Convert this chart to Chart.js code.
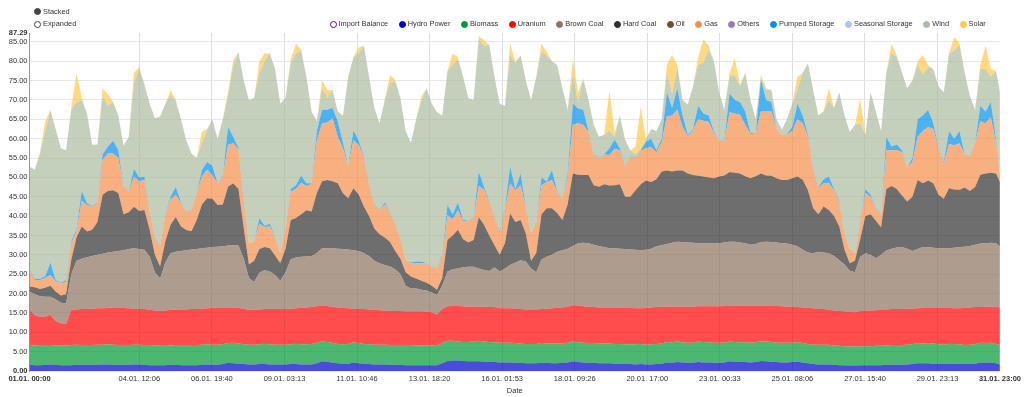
<!DOCTYPE html>
<html>
<head>
<meta charset="utf-8">
<script src="https://cdn.jsdelivr.net/npm/chart.js"></script>
<style>
  body { margin: 0; background: #fff; font-family: "Liberation Sans", Arial, sans-serif; color: #333; }
  #wrap { position: relative; width: 1024px; height: 397px; }
  #chart { position: absolute; left: 0; top: 0; }
  .row { position: absolute; display: flex; align-items: center; font-size: 7.4px; line-height: 12px; white-space: nowrap; }
  .item { display: flex; align-items: center; margin-right: 10.5px; }
  .dot { display: inline-block; width: 5px; height: 5px; border-radius: 50%; border: 1px solid; margin-right: 2px; box-sizing: content-box; }
</style>
</head>
<body>
<div id="wrap">
  <canvas id="chart" width="1024" height="397"></canvas>
  <div class="row" style="left:34px;top:5.5px"><span class="item"><i class="dot" style="background:#444;border-color:#444"></i>Stacked</span></div>
  <div class="row" style="left:34px;top:18px"><span class="item"><i class="dot" style="background:#fff;border-color:#444"></i>Expanded</span></div>
  <div class="row" id="legend" style="left:329.5px;top:18px"></div>
</div>
<script>
// hourly timeline 01.01. 00:00 .. 31.01. 23:00, read every 4 hours
const hours = Array.from({length: 186}, (_, i) => i * 4).concat(743);

// cumulative tops of each stacked layer (GW)
const hydroTop = [
  1.7,1.5,1.5,1.6,1.7,1.6, 1.5,1.5,1.5,1.6,1.6,1.6, 1.6,1.6,1.7,1.7,1.6,1.6, 1.6,1.6,1.7,1.7,1.6,1.5,
  1.5,1.5,1.5,1.6,1.6,1.5, 1.5,1.5,1.5,1.6,1.7,1.6, 1.6,1.8,2.1,2.0,1.9,1.8, 1.7,1.7,1.8,1.8,1.7,1.7,
  1.7,1.7,1.8,1.8,1.7,1.7, 1.7,2.0,2.5,2.4,2.1,2.0, 1.9,1.9,2.2,2.0,1.9,1.8, 1.7,1.7,1.7,1.6,1.6,1.6,
  1.5,1.5,1.5,1.5,1.5,1.5, 1.5,2.0,2.6,2.7,2.7,2.6, 2.5,2.5,2.5,2.4,2.4,2.3, 2.2,2.2,2.2,2.1,2.1,2.0,
  2.0,2.0,2.1,2.1,2.0,2.0, 2.1,2.2,2.5,2.3,2.2,2.1, 2.1,2.0,2.0,2.0,1.9,1.9, 1.8,1.8,1.7,1.8,1.7,1.7,
  1.8,1.9,2.2,2.1,2.3,2.2, 2.1,2.1,2.3,2.2,2.2,2.1, 2.1,2.2,2.5,2.4,2.3,2.3, 2.2,2.3,2.6,2.5,2.4,2.3,
  2.2,2.2,2.3,2.4,2.2,2.0, 1.8,1.7,1.7,1.7,1.6,1.5, 1.5,1.4,1.4,1.5,1.5,1.5, 1.5,1.5,1.6,1.6,1.6,1.6,
  1.7,1.8,2.0,2.0,2.0,1.9, 1.9,1.8,1.9,1.9,1.9,1.8, 1.8,1.9,2.2,2.1,2.2,2.0, 1.7
];
const biomassTop = [
  6.7,6.6,6.7,6.7,6.7,6.6, 6.6,6.6,6.7,6.8,6.7,6.7, 6.7,6.8,6.8,6.9,6.8,6.7, 6.7,6.7,6.8,6.8,6.7,6.7,
  6.6,6.5,6.5,6.6,6.7,6.7, 6.7,6.7,6.7,6.8,6.9,6.8, 6.8,6.9,7.2,7.3,7.1,6.9, 6.8,6.8,6.9,7.0,6.9,6.8,
  6.8,6.8,6.9,7.0,6.9,6.9, 7.0,7.3,7.6,7.5,7.3,7.0, 6.9,7.0,7.4,7.2,7.0,6.9, 6.8,6.8,6.8,6.7,6.7,6.7,
  6.7,6.7,6.6,6.6,6.6,6.6, 6.5,7.2,7.8,7.8,7.6,7.5, 7.5,7.6,7.8,7.6,7.5,7.4, 7.3,7.3,7.3,7.2,7.1,7.0,
  7.0,7.0,7.2,7.1,7.1,7.1, 7.1,7.3,7.6,7.4,7.3,7.2, 7.2,7.1,7.1,7.1,7.0,7.0, 6.9,6.9,6.9,7.0,6.8,6.9,
  7.0,7.1,7.5,7.4,7.6,7.4, 7.3,7.3,7.6,7.5,7.4,7.3, 7.3,7.3,7.6,7.5,7.4,7.4, 7.3,7.4,7.7,7.6,7.5,7.3,
  7.3,7.3,7.3,7.4,7.2,7.0, 6.8,6.8,6.8,6.8,6.6,6.5, 6.4,6.3,6.3,6.4,6.4,6.4, 6.5,6.5,6.6,6.7,6.7,6.7,
  6.8,6.9,7.2,7.1,7.2,7.1, 6.9,6.8,7.0,7.0,6.9,6.7, 6.8,6.9,7.3,7.2,7.3,7.0, 6.7
];
const uraniumTop = [
  15.8,14.4,14,14,14.5,13, 12.3,12.1,15.8,15.9,16,16, 16.1,16.2,16.2,16.3,16.4,16.4, 16.3,16.2,16.1,16,16,15.8,
  15.6,15.5,15.6,15.8,15.9,15.9, 15.9,16,16,16.1,16.2,16.3, 16.4,16.4,16.4,16.4,16.3,16.1, 15.8,15.8,15.9,16,16,16,
  16,16,16.1,16.2,16.3,16.4, 16.5,16.7,16.9,16.8,16.5,16.4, 16.3,16.2,16.1,16,16,15.9, 15.8,15.7,15.6,15.5,15.5,15.5,
  15.4,15.4,15.4,15.4,15.3,15.2, 14.6,16,16.7,16.8,16.8,16.7, 16.6,16.6,16.6,16.6,16.5,16.5, 16.2,16.2,16.2,16.1,16,15.9,
  15.9,15.9,16,16.1,16.2,16.3, 16.4,16.6,17,16.9,16.7,16.6, 16.5,16.4,16.4,16.4,16.4,16.4, 16.3,16.3,16.2,16.2,16.3,16.4,
  16.5,16.6,16.6,16.6,16.6,16.6, 16.6,16.6,16.7,16.7,16.7,16.7, 16.7,16.8,16.8,16.8,16.8,16.8, 16.8,16.8,16.8,16.8,16.8,16.8,
  16.7,16.6,16.6,16.5,16.4,16.3, 16.2,16.1,16,15.8,15.6,15.5, 15.4,15.3,15.2,15.5,15.6,15.6, 15.7,15.8,15.9,16,16,16,
  16.1,16.1,16.2,16.3,16.4,16.4, 16.4,16.3,16.3,16.2,16.2,16.3, 16.4,16.5,16.5,16.5,16.6,16.6, 16.4
];
const brownCoalTop = [
  20.5,19.8,19.3,19.2,19.2,18.5, 17.6,17.5,25,28.5,29,29.4, 29.7,30,30.3,30.6,30.8,31, 31.2,31.5,31.7,31.5,31.3,29.5,
  25.5,23.9,28,30.4,30.8,31, 31.2,31.4,31.5,31.7,31.8,32, 32.1,32.2,32.4,32.5,32.4,29, 24,23,25.4,26,25.7,24.8,
  23.3,25.5,28.8,29.3,29.5,29.6, 29.7,30.5,31.7,31.7,31.7,31.6, 31.5,31.4,31.2,31,30.5,29.7, 28.5,27.8,27.4,27,26.3,25,
  22,21.3,21.3,21,20.8,20.3, 19.6,22,25.7,26.3,26.5,26.8, 26.9,26.9,26.5,26.1,25.8,26.8, 25.7,26.5,27.4,28,28.6,28.3,
  26.5,25.5,28.8,29.5,30,30.8, 31.2,31.6,32.3,33,33.1,33, 32.6,32.2,32,31.7,31.7,31.6, 31.5,31.4,31.3,31.2,31.3,31.6,
  32.2,32.5,32.8,33.1,33.4,33.3, 33.2,33.1,33,33,33,33, 33,33.2,33.4,33.4,33.2,33, 32.6,32.8,33.3,33.4,33.3,33.2,
  33,32.9,32.6,32.2,31.3,30.6, 30.4,30.8,30.6,30.4,29.7,28.6, 27.5,25.9,25.5,29.5,30.4,30, 29.1,30,31.1,31.6,31.9,32,
  31.6,31,31.5,32,32,31.8, 31.7,31.7,31.7,31.8,32,32.1, 32.3,32.6,32.9,33,33.1,33, 32.1
];
const hardCoalTop = [
  21.8,21.6,21.2,21.5,22,20.5, 19.5,19.8,28.7,34.5,37.3,36, 36.5,38.5,45.5,46.5,46.7,46, 40.5,41,42.4,41.3,41.6,36.5,
  30,27,33.5,37.8,39.8,37.3, 36.4,36.1,39,43,44.6,44.5, 42.9,43,47.6,48.5,47,37, 27.5,28.5,31.5,32,31.7,29.8,
  27.8,31.5,39,39.5,40.5,41.5, 41.2,46,49,49.3,49,48.5, 45.9,44.6,47.2,45.6,42.5,40, 36.8,35.3,34.5,33.3,31,29,
  25.5,24.4,23.9,23.3,22.8,22, 21,24,33.8,35,36.5,34, 33.2,33.8,39.7,37.8,35,32.5, 30,33,40.7,38.5,39,35.5,
  28.5,30.5,40.5,42,42,40.8, 39,43,51,50.7,50.6,50.6, 48,47.6,48.2,47.9,48,48.2, 45,45,46.7,48.2,49.2,48.8,
  49.5,51.5,51.8,51.5,51.8,51.8, 51,50.6,50.4,50.2,50,49.8, 50.2,50.5,51.4,51.2,51,50.3, 49.8,50.3,51,50.5,50.4,49.8,
  49.3,49.3,49.8,50.2,49.4,46.7, 42,40.5,42.5,41.6,40,37.3, 31.3,27.8,28.5,34,40,40.5, 38.8,37.1,47,47.8,47,45.3,
  43.8,45,49.3,48.5,49.2,48.5, 45.5,44.5,47.2,46.9,46.8,47.4, 46.5,47.5,50.7,51,51.2,51, 48.8
];
const gasTop = [
  26,23.5,23.5,24,24.8,23.2, 22.6,23,33,36,44,42.9, 42.4,43.3,54.5,56.2,56.2,55, 47.6,46.3,50.2,49,49.3,41.1,
  34.3,32.3,40.3,44.3,45.5,43.3, 41.1,41.6,45.9,50.2,52,50.5, 48.5,50.2,58.4,58.8,57.2,44, 33,33.5,38,37.2,37.3,34.7,
  30.6,37,46.3,47,48.6,47.8, 48.3,59.5,64,64.2,65.2,60.5, 57.5,52.8,59.6,58.4,55.2,48.3, 42.8,41.7,43,40.8,38.1,34,
  28.7,27.8,27.9,27.8,27.8,26.9, 26.5,29.5,40.3,39.2,41.5,38.7, 38.9,39.4,47.8,46.8,43.8,39.9, 35.5,41.5,48.5,46.7,48,42.3,
  35.6,38.3,48,48.8,49.3,46.3, 44.4,50,63.6,64,63.5,61.8, 55.8,55.1,55.9,55.8,57.4,57, 52.8,55.4,55,56.8,57.6,57.8,
  56.5,59,65.7,66,67.5,63, 60.6,62.2,65,64.6,64.3,61.5, 59.5,59.3,66.8,66.5,66.2,63.5, 61.2,61.2,67,67,67,62.5,
  61,61.1,62,65,64,60.5, 52.3,47.3,48.5,48.6,46.7,43.5, 35.4,31.5,30,39,46,45, 41.8,40.3,57,57,57.1,56.5,
  52.5,54,60.5,62,63,62.5, 57.3,53.5,58.6,58.3,58.8,56, 55.5,58.8,64.5,64,65.5,59, 51
];
const pumpedTop = [
  26.3,23.8,23.8,24.5,28,23.5, 22.8,23.5,33.5,36.6,46.5,43.3, 42.6,43.5,56,58,59.5,57, 47.8,46.5,52.2,50,50.2,41.3,
  34.5,32.4,40.5,45,47.5,43.5, 41.2,41.7,46,51.9,54,53, 48.5,50.5,63,60.5,57.5,44.5, 33,33.5,39.5,37.5,38,34.8,
  30.6,37,47,48,50.5,48.5, 48.5,62,67.5,67.5,68,64.5, 59,53,62.2,59.5,55.5,48.5, 43,41.8,43.5,41,38.2,34.2,
  28.7,28,28.3,28.3,27.9,27, 26.6,30,42.9,40.5,43.5,39, 39,39.6,51.5,47.5,44,40, 36,42,52.8,47,51,42.5,
  35.6,38.5,50,49,51.9,46.5, 44.5,51,69,67.8,67.5,62, 56,55.2,56,57.5,59.8,57.5, 53,55.5,55.2,57,59.2,60,
  57,60,72,68,73,66, 61,62.5,68.5,66.5,66,62, 59.5,59.5,71.7,70,69.5,67, 61.5,61.3,75.2,70,69.5,62.5,
  61,61.2,63,69,66,61, 52.5,47.5,49.5,50.2,47,44, 35.5,31.5,30.2,39.3,47,45.5, 42,40.5,60.5,58,58.5,57,
  52.5,55,65,66,67.5,64, 57.5,54,62,60,62,56, 55.6,59,68.5,67,69.5,60, 51
];
const windTop = [
  52.8,52,56,61.9,67.2,62.5, 57.5,57,67.5,69.5,70,66.5, 58.4,58.5,71,68.5,69.5,66, 58.2,60.5,74.5,78,74,69,
  65.3,65.7,69,71.3,69.7,65, 59.6,56.2,55,58.8,62.3,65, 60,65,71,78.8,82.3,75, 70,70.5,77,80,82,78,
  69,70.5,79.5,82,82.7,76, 67,64.5,73,70.5,72.6,67, 66,76,81,82,84,76, 68,64,70,74.4,74.7,70.5,
  62,59,65,69.6,73,69, 66.8,66,77.5,79,80.5,76, 70.5,70,85.8,84,84.2,76, 69,68.5,81.6,79.5,81.5,75,
  70,76,82.5,81.5,80,79, 73,67.5,76.5,69.5,75.5,70, 63.5,60.5,61,62,60.5,66, 59.8,57,56,57.3,60,62.5,
  62,65,77,71.6,78.5,70, 68.8,73.5,79,79.7,83,80, 72,67.5,76.4,76.3,73.5,77, 70,65,75.7,72.7,72.6,65,
  62.3,65,69,72.5,77,79.5, 72.5,66,67,70,68,72, 66,61.8,63.5,63.9,61,72, 67,62,77,82,81.2,77,
  73,75,79,76.6,78.5,78, 73.5,72,82,82.7,84.3,77, 71,67.5,78,78,76,77.5, 72
];
const solarTop = [
  52.8,52,56.5,64.4,67.5,62.5, 57.5,57,68,77,70.5,66.5, 58.4,58.5,73,71.5,69.5,66, 58.2,60.5,77,78.5,74,69,
  65.3,65.7,69,72.6,70,65, 59.6,56.2,55,61.8,62.5,65, 60,65,72,80.3,82.3,75, 70,70.5,80,82,82,78,
  69,70.5,80.5,84.5,83,76, 67,64.5,75,72.5,72.6,67, 66,76,81,83.5,84,76, 68,64,70,76.4,75.2,70.5,
  62,59,65,70.9,73,69, 66.8,66,77.5,82,81,76, 70.5,70,86.5,85.5,84.2,76, 69,68.5,84.6,80,81.5,75,
  70,76,84.5,82.5,80,79, 73,67.5,80.5,72,75.5,70, 63.5,60.5,61,72.5,61.5,66, 59.8,57,58,68.3,60,62.5,
  62,65,79,81.6,79,70, 68.8,73.5,81,85.7,84,80, 72,67.5,76.9,80.8,74,77, 70,65,76.5,73,72.6,65,
  62.3,65,69,76,77,79.5, 72.5,66,67,73,68,72, 66,61.8,63.5,70.4,61,72, 67,62,77,84.5,81.5,77,
  73,75,80,81.6,79,78, 73.5,72,82,86.2,84.8,77, 71,67.5,79,84,78,77.5, 72
];

const legendNames = ['Import Balance', 'Hydro Power', 'Biomass', 'Uranium', 'Brown Coal', 'Hard Coal', 'Oil', 'Gas', 'Others', 'Pumped Storage', 'Seasonal Storage', 'Wind', 'Solar'];
const tickHours = [0, 84.1, 139.67, 195.22, 250.77, 306.33, 361.88, 417.43, 473, 528.55, 584.1, 639.67, 695.22, 743];
const tickLabels = ['01.01. 00:00', '04.01. 12:06', '06.01. 19:40', '09.01. 03:13', '11.01. 10:46', '13.01. 18:20', '16.01. 01:53', '18.01. 09:26', '20.01. 17:00', '23.01. 00:33', '25.01. 08:06', '27.01. 15:40', '29.01. 23:13', '31.01. 23:00'];
const yTicks = [0, 5, 10, 15, 20, 25, 30, 35, 40, 45, 50, 55, 60, 65, 70, 75, 80, 85, 87.29];

const colors = {
  'Import Balance': '#800080', 'Hydro Power': '#0000cc', 'Biomass': '#009933', 'Uranium': '#ff0000',
  'Brown Coal': '#8c735f', 'Hard Coal': '#303030', 'Oil': '#70502f', 'Gas': '#f58e4a', 'Others': '#9678be',
  'Pumped Storage': '#0091eb', 'Seasonal Storage': '#aac3fa', 'Wind': '#abbc9f', 'Solar': '#ffc74a'
};

// legend
const legend = document.getElementById('legend');
legendNames.forEach(name => {
  const item = document.createElement('span');
  item.className = 'item';
  const dot = document.createElement('i');
  dot.className = 'dot';
  dot.style.borderColor = colors[name];
  dot.style.background = name === 'Import Balance' ? '#fff' : colors[name];
  item.appendChild(dot);
  item.appendChild(document.createTextNode(name));
  legend.appendChild(item);
});

const layers = [
  ['Hydro Power', hydroTop], ['Biomass', biomassTop], ['Uranium', uraniumTop], ['Brown Coal', brownCoalTop],
  ['Hard Coal', hardCoalTop], ['Gas', gasTop], ['Pumped Storage', pumpedTop], ['Wind', windTop], ['Solar', solarTop]
];

Chart.defaults.font.family = '"Liberation Sans", Arial, sans-serif';
Chart.defaults.color = '#333';

new Chart(document.getElementById('chart'), {
  type: 'line',
  data: {
    datasets: layers.map(([name, tops], i) => ({
      label: name,
      data: tops.map((y, j) => ({x: hours[j], y: y})),
      backgroundColor: colors[name] + 'b3',
      borderWidth: 0,
      pointRadius: 0,
      fill: i === 0 ? 'origin' : '-1'
    }))
  },
  options: {
    responsive: false,
    animation: false,
    layout: {padding: {top: 33, right: 23, left: 0, bottom: 0}},
    plugins: {legend: {display: false}, tooltip: {enabled: false}},
    scales: {
      x: {
        type: 'linear', min: 0, max: 743,
        afterFit: s => { s.height = 26; },
        afterBuildTicks: s => { s.ticks = tickHours.map(v => ({value: v})); },
        ticks: {
          autoSkip: false, maxRotation: 0, padding: 3,
          callback: (v, i) => tickLabels[i],
          font: ctx => ({size: 7.5, weight: (ctx.index === 0 || ctx.index === tickLabels.length - 1) ? 'bold' : 'normal'})
        },
        grid: {drawTicks: false, color: ctx => (ctx.index === 0 || ctx.index === tickLabels.length - 1) ? 'rgba(0,0,0,0)' : '#dedede'},
        border: {display: false},
        title: {display: true, text: 'Date', font: {size: 7.5}, padding: {top: 0, bottom: 2}}
      },
      y: {
        min: 0, max: 87.29,
        afterFit: s => { s.width = 29.5; },
        afterBuildTicks: s => { s.ticks = yTicks.map(v => ({value: v})); },
        ticks: {
          autoSkip: false, padding: 2,
          callback: v => v.toFixed(2),
          font: ctx => ({size: 7.5, weight: (ctx.tick && (ctx.tick.value === 0 || ctx.tick.value === 87.29)) ? 'bold' : 'normal'})
        },
        grid: {drawTicks: false, color: ctx => (ctx.tick && ctx.tick.value === 87.29) ? 'rgba(0,0,0,0)' : '#e8e8e8'},
        border: {color: '#999'}
      }
    }
  }
});
</script>
</body>
</html>
